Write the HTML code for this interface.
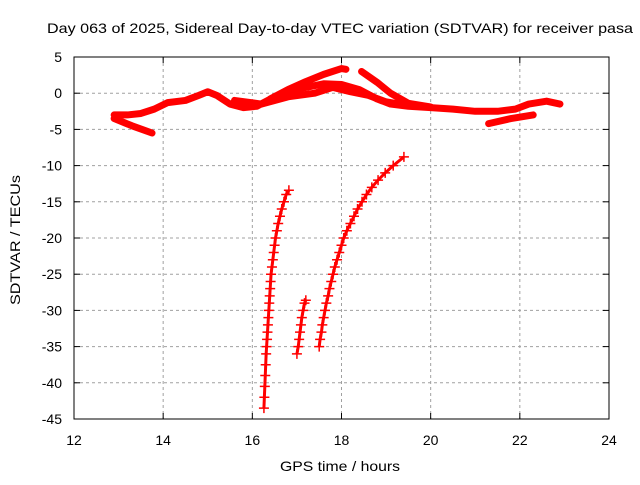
<!DOCTYPE html>
<html><head><meta charset="utf-8"><style>
body{margin:0;background:#fff}
svg text{font-family:"Liberation Sans",sans-serif;font-size:14px;fill:#000}
</style></head><body>
<svg id="chart" width="640" height="480" xmlns="http://www.w3.org/2000/svg">
<rect width="640" height="480" fill="#fff"/>
<g id="grid"></g><g id="series"></g><g id="axes"></g>
</svg>
<script>
const xTicks=[12,14,16,18,20,22,24];
const yTicks=[5,0,-5,-10,-15,-20,-25,-30,-35,-40,-45];
const bandMain=[[12.9,-3],[13.2,-3],[13.5,-2.8],[13.8,-2.2],[14.1,-1.3],[14.5,-1],[14.8,-0.3],[15,0.2],[15.2,-0.3],[15.5,-1.5],[15.8,-2],[16.1,-1.8],[16.5,-0.5],[16.8,0.2],[17.2,0.8],[17.6,1.3],[18,1.2],[18.4,0.5],[18.8,-0.8],[19.1,-1.5],[19.5,-1.8],[20,-2],[20.5,-2.2],[21,-2.5],[21.5,-2.5],[21.9,-2.2],[22.2,-1.5],[22.6,-1.1],[22.9,-1.5]];
const bandUpper=[[16.4,-0.8],[16.8,0.5],[17.2,1.6],[17.6,2.6],[18,3.4],[18.1,3.3]];
const bandMid=[[15.6,-1],[16.2,-1.5],[16.8,-0.5],[17.4,0],[17.8,0.8],[18.2,0.2],[18.6,-0.3],[19,-1.2],[19.4,-1.6]];
const bandDesc=[[18.45,3],[18.8,1.5],[19.1,0],[19.5,-1.4],[20,-1.9]];
const bandLow=[[12.9,-3.5],[13.3,-4.5],[13.75,-5.5]];
const bandLate=[[21.3,-4.2],[21.8,-3.5],[22.3,-3]];
const arc1=[[16.26,-43.5],[16.27,-42],[16.28,-40.5],[16.29,-39],[16.3,-37.5],[16.31,-36],[16.32,-35],[16.33,-34],[16.34,-33],[16.35,-32],[16.36,-31],[16.37,-30],[16.38,-29],[16.39,-28],[16.4,-27],[16.41,-26],[16.42,-25],[16.44,-24],[16.46,-23],[16.48,-22],[16.5,-21],[16.52,-20],[16.55,-19],[16.58,-18],[16.62,-17],[16.66,-16],[16.71,-15],[16.76,-14],[16.82,-13.4]];
const arc2=[[17.0,-36],[17.03,-35],[17.05,-34],[17.07,-33],[17.09,-32],[17.11,-31],[17.14,-30],[17.17,-29],[17.2,-28.6]];
const arc3=[[17.5,-35],[17.52,-34],[17.55,-33],[17.57,-32],[17.6,-31],[17.63,-30],[17.66,-29],[17.7,-28],[17.73,-27],[17.77,-26],[17.81,-25],[17.85,-24],[17.9,-23],[17.95,-22],[18,-21],[18.05,-20],[18.12,-19],[18.2,-18],[18.28,-17],[18.36,-16],[18.46,-15],[18.56,-14],[18.68,-13],[18.82,-12],[18.98,-11],[19.16,-10],[19.4,-8.8]];
const X0=74,X1=609,Y0=57,Y1=419;
const sx=v=>X0+(v-12)/12*(X1-X0);
const sy=v=>Y0+(5-v)/50*(Y1-Y0);
const NS="http://www.w3.org/2000/svg";
function mk(t,a,p){const e=document.createElementNS(NS,t);for(const k in a)e.setAttribute(k,a[k]);p.appendChild(e);return e;}
const grid=document.getElementById('grid'),axes=document.getElementById('axes'),ser=document.getElementById('series');
xTicks.forEach(t=>{
 if(t>12&&t<24){const l=mk('line',{x1:sx(t),x2:sx(t),y1:Y0,y2:Y1,stroke:'#a0a0a0','stroke-dasharray':'3,3'},grid);
 
 }
 mk('line',{x1:sx(t),x2:sx(t),y1:Y1,y2:Y1-6,stroke:'#000'},axes);
 mk('line',{x1:sx(t),x2:sx(t),y1:Y0,y2:Y0+6,stroke:'#000'},axes);
 const tx=mk('text',{x:sx(t),y:Y1+26,'text-anchor':'middle'},axes);tx.textContent=t;
 
 
});
yTicks.forEach(t=>{
 if(t<5&&t>-45){const l=mk('line',{x1:X0,x2:X1,y1:sy(t),y2:sy(t),stroke:'#a0a0a0','stroke-dasharray':'3,3'},grid);
 
 }
 mk('line',{x1:X0,x2:X0+6,y1:sy(t),y2:sy(t),stroke:'#000'},axes);
 mk('line',{x1:X1,x2:X1-6,y1:sy(t),y2:sy(t),stroke:'#000'},axes);
 const tx=mk('text',{x:X0-12,y:sy(t)+5,'text-anchor':'end'},axes);tx.textContent=t;
 
 
});
const fr=mk('rect',{x:X0,y:Y0,width:X1-X0,height:Y1-Y0,fill:'none',stroke:'#000'},axes);


[bandMain,bandUpper,bandMid,bandDesc,bandLow,bandLate].forEach(s=>{
 const p=mk('polyline',{points:s.map(d=>sx(d[0])+','+sy(d[1])).join(' '),fill:'none',stroke:'#f00','stroke-width':7,'stroke-linejoin':'round','stroke-linecap':'round'},ser);
 
 
});
[arc1,arc2,arc3].forEach(s=>{
 const p=mk('polyline',{points:s.map(d=>sx(d[0])+','+sy(d[1])).join(' '),fill:'none',stroke:'#f00','stroke-width':3},ser);
 
 
 s.forEach(d=>{const x=sx(d[0]),y=sy(d[1]);
  const m=mk('path',{d:`M${x-5},${y}H${x+5}M${x},${y-5}V${y+5}`,stroke:'#f00','stroke-width':1.5},ser);
  
  });
});
const t1=mk('text',{x:47,y:33,textLength:586,lengthAdjust:'spacingAndGlyphs'},axes);t1.textContent='Day 063 of 2025, Sidereal Day-to-day VTEC variation (SDTVAR) for receiver pasa';


const t2=mk('text',{x:280,y:471,textLength:120,lengthAdjust:'spacingAndGlyphs'},axes);t2.textContent='GPS time / hours';


const t3=mk('text',{x:-305,y:20,textLength:130,lengthAdjust:'spacingAndGlyphs',transform:'rotate(-90)'},axes);t3.textContent='SDTVAR / TECUs';


</script>
</body></html>
